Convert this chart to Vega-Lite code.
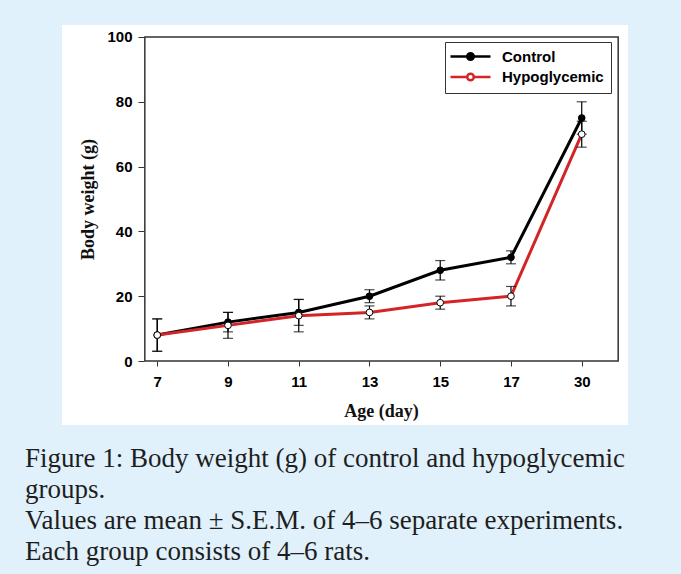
{
  "$schema": "https://vega.github.io/schema/vega-lite/v6.json",
  "width": 566,
  "height": 400,
  "autosize": {"type": "none"},
  "padding": {"left": 62, "top": 25, "right": 53, "bottom": 149},
  "background": "#e0f1fb",
  "config": {
    "view": {"fill": "white", "stroke": null}
  },
  "title": {
    "text": [
      "Figure 1: Body weight (g) of control and hypoglycemic",
      "groups.",
      "Values are mean ± S.E.M. of 4–6 separate experiments.",
      "Each group consists of 4–6 rats."
    ],
    "orient": "bottom",
    "anchor": "start",
    "frame": "group",
    "font": "Liberation Serif",
    "fontSize": 27,
    "fontWeight": "normal",
    "color": "#1e1e1e",
    "lineHeight": 31,
    "baseline": "alphabetic",
    "offset": 42,
    "dx": -37
  },
  "datasets": {
    "weights": [
      {"group": "Control", "age": "7", "mean": 8, "sem": 5},
      {"group": "Control", "age": "9", "mean": 12, "sem": 3},
      {"group": "Control", "age": "11", "mean": 15, "sem": 4},
      {"group": "Control", "age": "13", "mean": 20, "sem": 2},
      {"group": "Control", "age": "15", "mean": 28, "sem": 3},
      {"group": "Control", "age": "17", "mean": 32, "sem": 2},
      {"group": "Control", "age": "30", "mean": 75, "sem": 5},
      {"group": "Hypoglycemic", "age": "7", "mean": 8, "sem": 5},
      {"group": "Hypoglycemic", "age": "9", "mean": 11, "sem": 4},
      {"group": "Hypoglycemic", "age": "11", "mean": 14, "sem": 5},
      {"group": "Hypoglycemic", "age": "13", "mean": 15, "sem": 2},
      {"group": "Hypoglycemic", "age": "15", "mean": 18, "sem": 2},
      {"group": "Hypoglycemic", "age": "17", "mean": 20, "sem": 3},
      {"group": "Hypoglycemic", "age": "30", "mean": 70, "sem": 4}
    ],
    "frame": [{"x0": 0, "x1": 8, "y0": 0, "y1": 100}]
  },
  "resolve": {"scale": {"x": "independent"}, "axis": {"x": "independent", "y": "independent"}},
  "layer": [
    {
      "data": {"name": "frame"},
      "mark": {"type": "rect", "filled": false, "stroke": "#333333", "strokeWidth": 1.5},
      "encoding": {
        "x": {"field": "x0", "type": "quantitative", "scale": {"domain": [-1.4, 8.166], "nice": false, "zero": false}, "axis": null},
        "x2": {"field": "x1"},
        "y": {"field": "y0", "type": "quantitative", "axis": null},
        "y2": {"field": "y1"}
      }
    },
    {
      "data": {"name": "weights"},
      "encoding": {
        "x": {
          "field": "age",
          "type": "ordinal",
          "sort": ["7", "9", "11", "13", "15", "17", "30"],
          "scale": {"type": "point", "padding": 1.783, "align": 0.673},
          "axis": {
            "offset": -64,
            "domain": false,
            "grid": false,
            "labelAngle": 0,
            "tickSize": 5,
            "tickColor": "#333333",
            "labelPadding": 8,
            "labelFont": "Liberation Sans",
            "labelFontWeight": "bold",
            "labelFontSize": 15,
            "labelColor": "black",
            "title": "Age (day)",
            "titleFont": "Liberation Serif",
            "titleFontSize": 18,
            "titleFontWeight": "bold",
            "titleColor": "#111111",
            "titleX": 319,
            "titleY": 55,
            "titleAlign": "center",
            "titleBaseline": "alphabetic"
          }
        },
        "y": {
          "field": "mean",
          "type": "quantitative",
          "scale": {"domain": [-19.75, 103.7], "nice": false, "zero": false},
          "axis": {
            "offset": -82,
            "domain": false,
            "grid": false,
            "values": [0, 20, 40, 60, 80, 100],
            "tickSize": 6,
            "tickColor": "#333333",
            "labelPadding": 6,
            "labelFont": "Liberation Sans",
            "labelFontWeight": "bold",
            "labelFontSize": 15,
            "labelColor": "black",
            "title": "Body weight (g)",
            "titleFont": "Liberation Serif",
            "titleFontSize": 18,
            "titleFontWeight": "bold",
            "titleColor": "#111111",
            "titleAngle": -90,
            "titleX": -56,
            "titleY": 174,
            "titleAlign": "center",
            "titleBaseline": "middle"
          }
        }
      },
      "layer": [
        {
          "mark": {"type": "line", "strokeWidth": 3},
          "encoding": {
            "color": {
              "field": "group",
              "type": "nominal",
              "scale": {"domain": ["Control", "Hypoglycemic"], "range": ["#000000", "#d42426"]},
              "legend": {
                "title": null,
                "orient": "top-right",
                "offset": 17,
                "fillColor": "white",
                "strokeColor": "#333333",
                "padding": 7,
                "cornerRadius": 0,
                "rowPadding": 3.5,
                "symbolType": "M-1.8,0H1.54M2.86,0H6.2M2.86,0A0.66,0.66,0,1,1,1.54,0A0.66,0.66,0,1,1,2.86,0",
                "symbolSize": 100,
                "symbolStrokeWidth": 2.5,
                "labelOffset": 35,
                "labelFont": "Liberation Sans",
                "labelFontWeight": "bold",
                "labelFontSize": 15,
                "labelColor": "black",
                "encode": {
                  "symbols": {
                    "update": {
                      "fill": {"signal": "datum.value === 'Control' ? 'black' : 'white'"},
                      "fillOpacity": {"value": 1}
                    }
                  }
                }
              }
            }
          }
        },
        {
          "mark": {"type": "errorbar", "ticks": {"size": 10}, "color": "black", "thickness": 1.2},
          "encoding": {
            "yError": {"field": "sem"}
          }
        },
        {
          "mark": {"type": "circle", "size": 45, "stroke": "black", "strokeWidth": 1, "opacity": 1},
          "encoding": {
            "fill": {
              "field": "group",
              "type": "nominal",
              "scale": {"domain": ["Control", "Hypoglycemic"], "range": ["black", "white"]},
              "legend": null
            }
          }
        }
      ]
    }
  ]
}
